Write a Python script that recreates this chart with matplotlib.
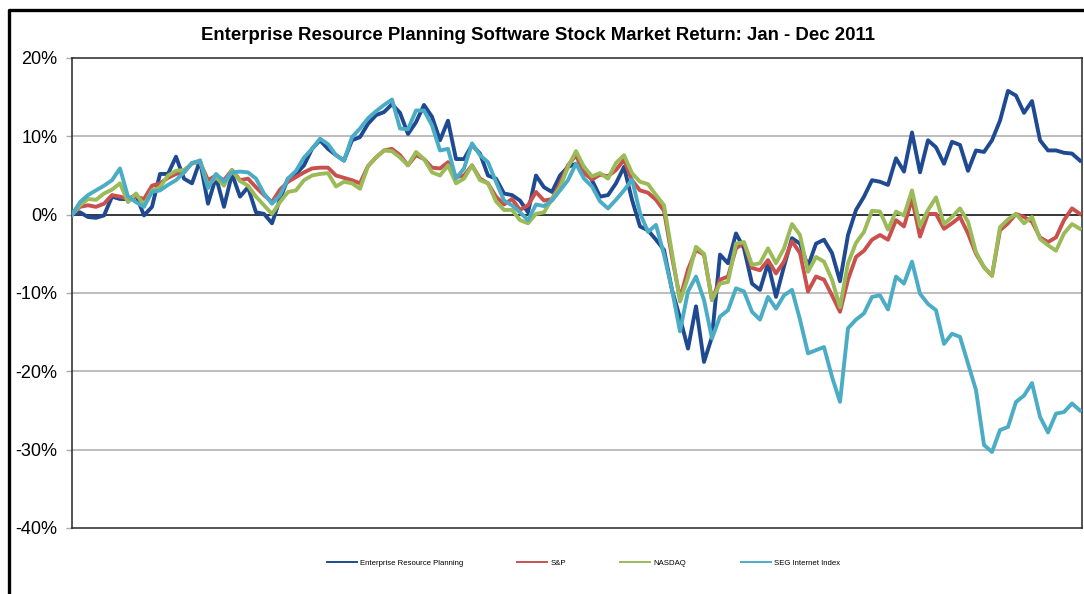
import matplotlib
matplotlib.use("Agg")
import matplotlib.pyplot as plt
from matplotlib.lines import Line2D
from matplotlib.ticker import FuncFormatter, FixedLocator

plt.rcParams['font.family'] = ['Liberation Sans', 'DejaVu Sans']

# Trading days (every second trading day of 2011)
trading_day = list(range(0, 253, 2))

erp = [0.0, 0.3, -0.3, -0.4, -0.1, 2.3, 2.0, 2.0, 2.5, -0.1,
       1.0, 5.2, 5.2, 7.4, 4.6, 4.0, 6.9, 1.4, 4.8, 1.0,
       5.2, 2.3, 3.5, 0.3, 0.1, -1.1, 2.0, 4.6, 5.2, 6.3,
       8.4, 9.5, 8.4, 7.6, 6.9, 9.5, 9.9, 11.6, 12.7, 13.1,
       14.1, 13.0, 10.3, 11.8, 14.0, 12.5, 9.5, 12.0, 7.1, 7.1,
       8.9, 7.8, 5.0, 4.6, 2.7, 2.5, 1.8, 0.3, 5.0, 3.5,
       2.9, 5.0, 6.1, 6.5, 6.1, 4.4, 2.3, 2.5, 4.0, 6.1,
       1.9, -1.5, -2.0, -3.2, -4.5, -9.6, -13.2, -17.1, -11.7, -18.8,
       -15.6, -5.1, -6.2, -2.4, -4.3, -8.8, -9.6, -6.2, -10.5, -6.6,
       -3.0, -3.7, -6.6, -3.7, -3.2, -4.9, -8.5, -2.6, 0.6, 2.3,
       4.4, 4.2, 3.8, 7.2, 5.5, 10.5, 5.4, 9.5, 8.6, 6.5,
       9.3, 8.9, 5.6, 8.2, 8.0, 9.5, 12.0, 15.8, 15.2, 13.0,
       14.5, 9.5, 8.2, 8.2, 7.9, 7.8, 6.9]

sp500 = [0.0, 1.0, 1.2, 1.0, 1.4, 2.5, 2.3, 2.0, 2.3, 2.0,
         3.7, 4.0, 4.7, 5.2, 5.4, 6.6, 6.7, 4.4, 5.0, 4.4,
         5.7, 4.4, 4.6, 3.5, 2.5, 1.6, 3.2, 4.2, 4.8, 5.4,
         5.9, 6.0, 6.0, 5.0, 4.7, 4.4, 4.0, 6.2, 7.3, 8.2,
         8.4, 7.6, 6.3, 7.6, 7.1, 6.0, 5.9, 6.7, 4.8, 5.0,
         6.3, 4.6, 4.0, 2.3, 1.3, 2.0, 0.6, 1.2, 2.9, 1.8,
         2.0, 4.0, 6.3, 7.6, 5.3, 4.5, 5.1, 4.9, 5.7, 7.0,
         4.4, 3.1, 2.8, 1.9, 0.5, -5.4, -10.7, -7.0, -4.5, -5.1,
         -10.9, -8.3, -7.9, -4.3, -3.6, -6.8, -7.1, -5.8, -7.5, -6.0,
         -3.4, -4.9, -9.8, -7.9, -8.3, -10.3, -12.4, -8.3, -5.4, -4.6,
         -3.2, -2.6, -3.2, -0.7, -1.5, 2.0, -2.8, 0.1, 0.1, -1.8,
         -1.1, -0.3, -2.4, -5.0, -6.7, -7.8, -2.0, -1.1, 0.1, -0.3,
         -0.9, -2.9, -3.5, -2.9, -0.7, 0.8, 0.1]

nasdaq = [0.0, 1.2, 2.0, 1.9, 2.7, 3.2, 4.0, 1.6, 2.7, 1.2,
          3.1, 3.5, 5.0, 5.6, 5.7, 6.5, 6.9, 3.7, 4.8, 3.7,
          5.7, 4.3, 3.7, 2.3, 1.2, 0.1, 1.6, 2.9, 3.1, 4.4,
          5.0, 5.2, 5.3, 3.6, 4.2, 4.0, 3.3, 6.2, 7.3, 8.2,
          8.1, 7.3, 6.3, 8.0, 7.1, 5.4, 5.0, 6.3, 4.0, 4.6,
          6.3, 4.4, 4.0, 1.7, 0.6, 0.6, -0.7, -1.1, 0.1, 0.3,
          2.0, 3.5, 6.1, 8.1, 6.1, 4.9, 5.3, 4.6, 6.6, 7.6,
          5.3, 4.2, 3.9, 2.5, 1.2, -4.9, -11.1, -8.0, -4.1, -5.0,
          -10.9, -8.8, -8.6, -3.7, -3.5, -6.4, -6.2, -4.3, -6.2, -4.3,
          -1.2, -2.6, -7.3, -5.4, -6.0, -8.3, -11.8, -6.2, -3.6, -2.2,
          0.5, 0.4, -1.9, 0.4, -0.1, 3.1, -1.5, 0.6, 2.2, -1.2,
          -0.3, 0.8, -0.9, -4.8, -6.7, -7.8, -1.6, -0.6, 0.1, -1.1,
          -0.3, -3.1, -3.9, -4.6, -2.4, -1.2, -1.8]

seg_internet = [0.0, 1.6, 2.5, 3.1, 3.7, 4.4, 5.9, 2.3, 1.6, 1.0,
                2.9, 3.1, 3.8, 4.4, 5.4, 6.6, 6.9, 3.4, 5.2, 4.2,
                5.4, 5.5, 5.4, 4.6, 2.7, 1.4, 2.5, 4.6, 5.6, 7.3,
                8.4, 9.7, 9.0, 7.6, 6.9, 9.9, 11.0, 12.3, 13.2, 14.0,
                14.7, 11.0, 10.9, 13.3, 13.3, 11.4, 8.2, 8.4, 4.6, 5.9,
                9.1, 7.6, 6.7, 4.2, 1.8, 1.2, 0.3, -0.7, 1.3, 1.1,
                1.8, 3.1, 4.4, 6.5, 4.6, 3.6, 1.7, 0.8, 1.9, 3.1,
                4.5, 0.2, -2.2, -1.3, -5.1, -9.6, -14.9, -9.8, -7.9, -10.9,
                -15.8, -13.0, -12.2, -9.4, -9.8, -12.4, -13.4, -10.5, -12.0, -10.3,
                -9.6, -13.4, -17.7, -17.3, -16.9, -20.7, -23.9, -14.5, -13.4, -12.6,
                -10.5, -10.3, -12.1, -7.9, -8.8, -6.0, -10.1, -11.4, -12.2, -16.5,
                -15.2, -15.6, -19.0, -22.4, -29.4, -30.3, -27.5, -27.1, -23.9, -23.1,
                -21.5, -25.8, -27.8, -25.4, -25.2, -24.1, -25.0]

series_names = ["Enterprise Resource Planning", "S&P", "NASDAQ", "SEG Internet Index"]
series_colors = ["#1F4A91", "#C9504D", "#9BBB59", "#4BACC6"]
y_ticks = [20, 10, 0, -10, -20, -30, -40]

fig = plt.figure(figsize=(10.84, 5.94), dpi=100)
ax = fig.add_axes([72 / 1084, 1 - 528 / 594, (1082 - 72) / 1084, (528 - 58) / 594])

for name, vals, col in zip(series_names, [erp, sp500, nasdaq, seg_internet], series_colors):
    ax.plot(trading_day, vals, color=col, lw=2.8, label=name, solid_joinstyle='round', zorder=3)

ax.set_xlim(0, 252.5)
ax.set_ylim(-40, 20)
ax.yaxis.set_major_locator(FixedLocator(y_ticks))
ax.yaxis.set_major_formatter(FuncFormatter(lambda v, p: f"{v:.0f}%"))
ax.set_xticks([])
for v in [10, -10, -20, -30]:
    ax.axhline(v, color="#ABABAB", lw=1.1, zorder=1)
ax.axhline(0, color="black", lw=1.1, zorder=2)
ax.tick_params(axis='y', direction='out', length=4.5, width=1, color="#ABABAB",
               labelsize=13, pad=6)
for s in ax.spines.values():
    s.set_color("#262626")
    s.set_linewidth(1.1)

fig.text(0.496, 0.941, "Enterprise Resource Planning Software Stock Market Return: Jan - Dec 2011",
         ha='center', va='center', fontsize=13.4, fontweight='bold')

handles = [Line2D([], [], color=c, lw=1.4) for c in series_colors]
fig.legend(handles, series_names, loc='center', bbox_to_anchor=(0.538, 0.052), ncol=4,
           frameon=False, fontsize=5.6, handlelength=3.85, handletextpad=0.4,
           columnspacing=7.0)

# outer chart border (left and top edges visible)
fig.add_artist(Line2D([8.5 / 1084, 8.5 / 1084, 1.0], [0.0, 1 - 10 / 594, 1 - 10 / 594],
                      transform=fig.transFigure, color='black', lw=2.4))

fig.savefig("out.png", dpi=100)
